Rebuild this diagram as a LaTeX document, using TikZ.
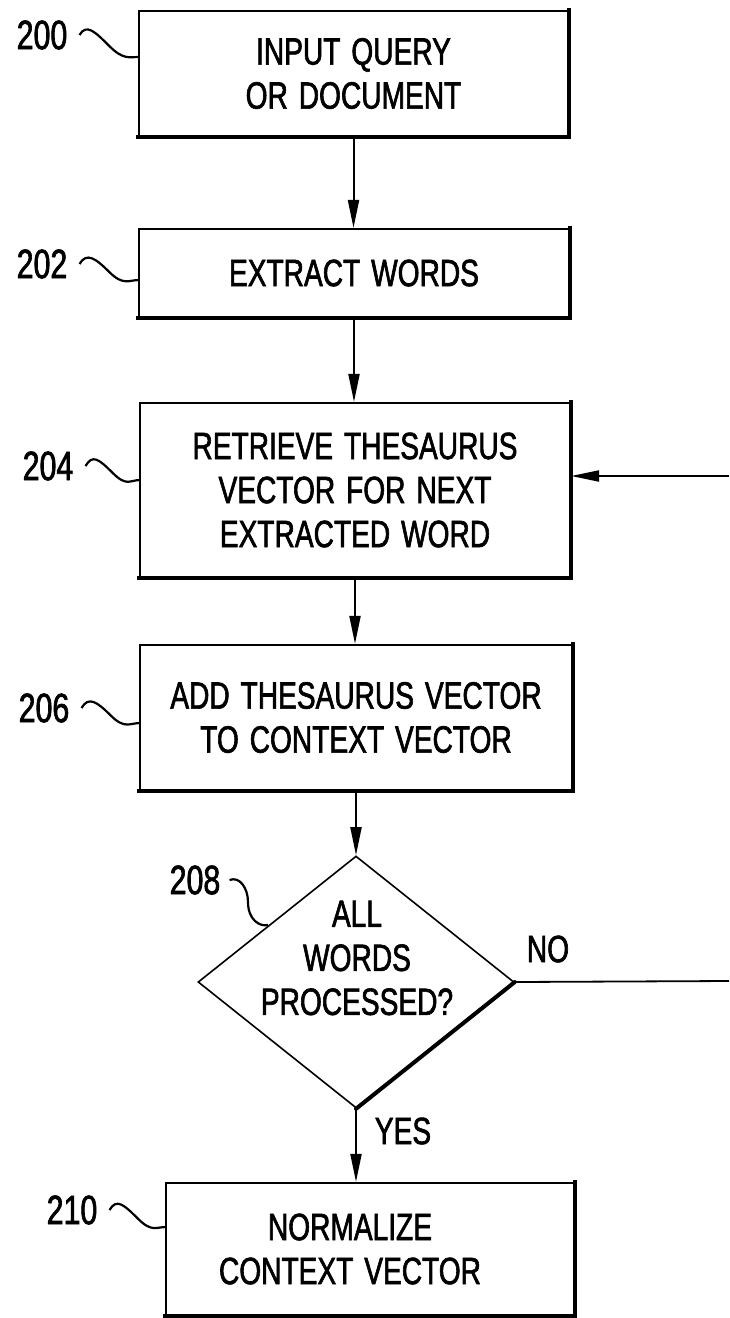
\documentclass[tikz,border=0pt]{standalone}
\usepackage{fontspec}
\setmainfont[FakeStretch=0.74,WordSpace=1.4,FakeBold=1.6]{Liberation Sans}
\usetikzlibrary{shapes.geometric,arrows.meta,calc}
\begin{document}
\begin{tikzpicture}[x=1pt,y=-1pt,
  every node/.style={font=\fontsize{38}{44}\selectfont},
  box/.style={draw,line width=2.2pt,rectangle,inner sep=0pt,align=center},
  heavy/.style={line width=4pt,line cap=rect},
  numlabel/.style={inner sep=0pt,font=\fontsize{41}{44}\selectfont},
  sq/.style={line width=2.2pt},
  arr/.style={line width=2pt,-{Triangle[length=28pt,width=11pt]}},
  conn/.style={line width=1.8pt}]
\useasboundingbox (0,0) rectangle (729,1318);

% boxes
\node[box,minimum width=429pt,minimum height=125pt] (b200) at (353.5,73.5) {INPUT QUERY\\OR DOCUMENT};
\node[box,minimum width=430pt,minimum height=88pt] (b202) at (354,273) {EXTRACT WORDS};
\node[box,minimum width=430pt,minimum height=174pt] (b204) at (355,490) {RETRIEVE THESAURUS\\VECTOR FOR NEXT\\EXTRACTED WORD};
\node[box,minimum width=432pt,minimum height=145pt] (b206) at (356,717.5) {ADD THESAURUS VECTOR\\TO CONTEXT VECTOR};
\node[draw,diamond,line width=1.6pt,inner sep=0pt,minimum width=316pt,minimum height=252pt] (d208) at (356,982) {};
\node[align=center,inner sep=0pt] (t208) at (357,958) {ALL\\WORDS\\PROCESSED?};
\node[box,minimum width=408pt,minimum height=132pt] (b210) at (370,1249) {};
\node[align=center,inner sep=0pt] (t210) at (350,1249) {NORMALIZE\\CONTEXT VECTOR};

% heavier right and bottom edges
\foreach \n in {b200,b202,b204,b206,b210}
  \draw[heavy] (\n.north east) -- (\n.south east) -- (\n.south west);
\draw[line width=4pt,line cap=round] (d208.east) -- (d208.south);

% reference numerals
\node[numlabel] (l200) at (42,35) {200};
\node[numlabel] (l202) at (42,264) {202};
\node[numlabel] (l204) at (48,466) {204};
\node[numlabel] (l206) at (44,708) {206};
\node[numlabel] (l208) at (195,880) {208};
\node[numlabel] (l210) at (72,1210) {210};

\coordinate (s200) at (139,57);
\coordinate (s202) at (139,280);
\coordinate (s204) at (140,480);
\coordinate (s206) at (140,723);
\coordinate (s208) at (268,925);
\coordinate (s210) at (166,1227);

\foreach \n in {200,202,204,206,210}
  \draw[sq] ([xshift=12pt]l\n.east) .. controls +(7,-12) and +(-14,-14) ..
    ($([xshift=12pt]l\n.east)!0.5!(s\n)$) .. controls +(14,14) and +(-10,0) .. (s\n);
\draw[sq] ([xshift=9pt]l208.east) .. controls +(10,-4) and +(0,-14) .. (248,902)
  .. controls +(0,18) and +(-8,2) .. (s208);

% connectors
\draw[arr] (b200.south) -- (b200.south |- b202.north);
\draw[arr] (b202.south) -- (b202.south |- b204.north);
\draw[arr] (b204.south) -- (b204.south |- b206.north);
\draw[arr] (b206.south) -- (b206.south |- d208.north);
\draw[arr] (d208.south) -- (d208.south |- b210.north);

\coordinate (noend) at (729,981);
\coordinate (loopin) at (729,476);
\draw[conn] (d208.east) -- (noend);
\draw[arr] (loopin) -- (b204.east |- loopin);

\node (no) at (548,949) {NO};
\node (yes) at (403,1131) {YES};
\end{tikzpicture}
\end{document}
